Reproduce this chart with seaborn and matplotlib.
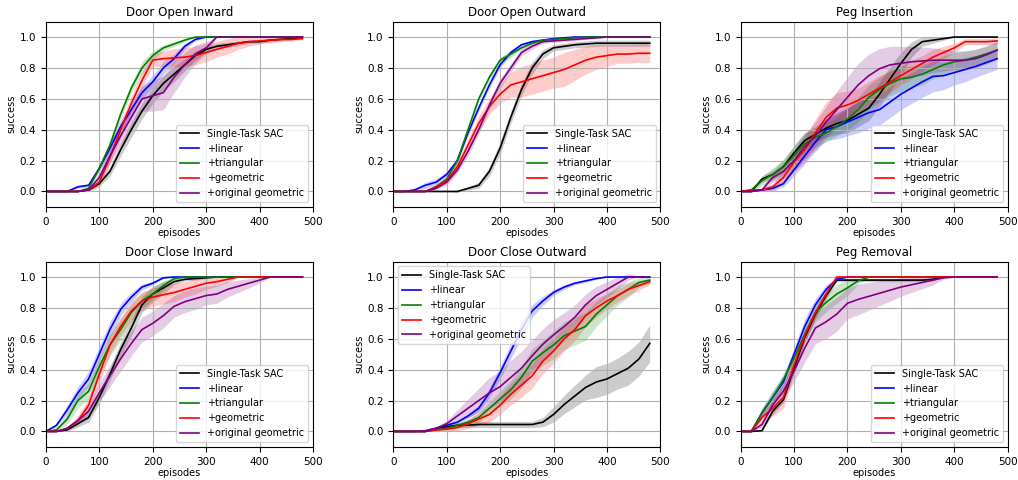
import numpy as np
import pandas as pd
import matplotlib
matplotlib.use('Agg')
import matplotlib.pyplot as plt
import seaborn as sns

episodes = [0, 20, 40, 60, 80, 100, 120, 140, 160, 180, 200, 220, 240,
            260, 280, 300, 320, 340, 360, 380, 400, 420, 440, 460, 480]

methods = ['Single-Task SAC', '+linear', '+triangular', '+geometric', '+original geometric']
colors = ['black', 'blue', 'green', 'red', 'purple']
titles = ['Door Open Inward', 'Door Open Outward', 'Peg Insertion',
          'Door Close Inward', 'Door Close Outward', 'Peg Removal']

# Door Open Inward
doi_sac = [0, 0, 0, 0, 0.01, 0.05, 0.13, 0.27, 0.40, 0.52, 0.62, 0.70, 0.76, 0.82, 0.88, 0.92, 0.94, 0.95, 0.96, 0.97, 0.97, 0.98, 0.985, 0.99, 0.995]
doi_lin = [0, 0, 0, 0.03, 0.04, 0.15, 0.28, 0.42, 0.53, 0.64, 0.71, 0.80, 0.86, 0.94, 0.985, 1, 1, 1, 1, 1, 1, 1, 1, 1, 1]
doi_tri = [0, 0, 0, 0, 0.02, 0.15, 0.30, 0.50, 0.67, 0.80, 0.88, 0.93, 0.955, 0.98, 1, 1, 1, 1, 1, 1, 1, 1, 1, 1, 1]
doi_geo = [0, 0, 0, 0, 0.01, 0.06, 0.22, 0.40, 0.57, 0.72, 0.85, 0.86, 0.865, 0.87, 0.88, 0.90, 0.92, 0.94, 0.96, 0.97, 0.975, 0.98, 0.985, 0.985, 0.99]
doi_org = [0, 0, 0, 0, 0.01, 0.09, 0.23, 0.36, 0.48, 0.60, 0.62, 0.64, 0.74, 0.82, 0.89, 0.93, 1, 1, 1, 1, 1, 1, 1, 1, 1]
doi_sac_err = [0, 0, 0, 0, 0.01, 0.02, 0.03, 0.04, 0.05, 0.05, 0.05, 0.05, 0.05, 0.04, 0.03, 0.02, 0.02, 0.015, 0.015, 0.01, 0.01, 0.01, 0.01, 0.01, 0.005]
doi_lin_err = [0, 0, 0, 0.01, 0.01, 0.02, 0.03, 0.04, 0.04, 0.04, 0.04, 0.04, 0.03, 0.02, 0.01, 0, 0, 0, 0, 0, 0, 0, 0, 0, 0]
doi_tri_err = [0, 0, 0, 0, 0.01, 0.02, 0.03, 0.03, 0.03, 0.04, 0.03, 0.02, 0.015, 0.01, 0, 0, 0, 0, 0, 0, 0, 0, 0, 0, 0]
doi_geo_err = [0, 0, 0, 0, 0.01, 0.02, 0.04, 0.05, 0.05, 0.05, 0.04, 0.05, 0.06, 0.06, 0.06, 0.06, 0.05, 0.05, 0.04, 0.03, 0.02, 0.02, 0.015, 0.01, 0.01]
doi_org_err = [0, 0, 0, 0, 0.01, 0.03, 0.05, 0.06, 0.07, 0.08, 0.10, 0.11, 0.10, 0.08, 0.06, 0.04, 0, 0, 0, 0, 0, 0, 0, 0, 0]

# Door Open Outward
doo_sac = [0, 0, 0, 0, 0, 0, 0, 0.02, 0.04, 0.13, 0.28, 0.48, 0.66, 0.80, 0.89, 0.93, 0.94, 0.95, 0.955, 0.96, 0.96, 0.96, 0.96, 0.96, 0.96]
doo_lin = [0, 0, 0.01, 0.04, 0.06, 0.11, 0.20, 0.38, 0.54, 0.69, 0.82, 0.90, 0.95, 0.97, 0.98, 0.99, 0.995, 1, 1, 1, 1, 1, 1, 1, 1]
doo_tri = [0, 0, 0, 0, 0.03, 0.08, 0.20, 0.40, 0.60, 0.74, 0.85, 0.89, 0.93, 0.96, 0.98, 0.985, 0.99, 0.995, 1, 1, 1, 1, 1, 1, 1]
doo_geo = [0, 0, 0, 0, 0.03, 0.07, 0.16, 0.30, 0.44, 0.55, 0.63, 0.69, 0.71, 0.73, 0.75, 0.77, 0.79, 0.82, 0.85, 0.87, 0.88, 0.89, 0.89, 0.895, 0.895]
doo_org = [0, 0, 0, 0, 0.02, 0.06, 0.14, 0.26, 0.40, 0.56, 0.70, 0.80, 0.90, 0.94, 0.97, 0.975, 0.98, 0.985, 0.99, 0.995, 1, 1, 1, 1, 1]
doo_sac_err = [0, 0, 0, 0, 0, 0, 0.005, 0.01, 0.02, 0.03, 0.04, 0.04, 0.04, 0.04, 0.03, 0.02, 0.02, 0.02, 0.02, 0.02, 0.02, 0.02, 0.02, 0.02, 0.02]
doo_lin_err = [0, 0, 0.01, 0.02, 0.02, 0.02, 0.02, 0.02, 0.02, 0.02, 0.02, 0.015, 0.01, 0.01, 0.01, 0.005, 0, 0, 0, 0, 0, 0, 0, 0, 0]
doo_tri_err = [0, 0, 0, 0, 0.01, 0.01, 0.02, 0.02, 0.02, 0.02, 0.02, 0.02, 0.01, 0.01, 0.005, 0, 0, 0, 0, 0, 0, 0, 0, 0, 0]
doo_geo_err = [0, 0, 0, 0, 0.01, 0.02, 0.03, 0.04, 0.05, 0.05, 0.06, 0.08, 0.10, 0.10, 0.10, 0.10, 0.11, 0.10, 0.09, 0.08, 0.07, 0.06, 0.06, 0.06, 0.06]
doo_org_err = [0, 0, 0, 0, 0.01, 0.02, 0.02, 0.03, 0.03, 0.03, 0.03, 0.03, 0.02, 0.02, 0.01, 0.01, 0.01, 0.01, 0.005, 0.005, 0, 0, 0, 0, 0]

# Peg Insertion
pi_sac = [0, 0, 0.08, 0.11, 0.16, 0.25, 0.33, 0.37, 0.41, 0.44, 0.46, 0.50, 0.54, 0.63, 0.73, 0.83, 0.92, 0.97, 0.98, 0.99, 1, 1, 1, 1, 1]
pi_lin = [0, 0, 0.01, 0.02, 0.05, 0.14, 0.23, 0.32, 0.40, 0.42, 0.45, 0.48, 0.51, 0.53, 0.58, 0.63, 0.67, 0.71, 0.745, 0.75, 0.77, 0.79, 0.81, 0.835, 0.86]
pi_tri = [0, 0.01, 0.07, 0.11, 0.16, 0.23, 0.31, 0.35, 0.38, 0.42, 0.47, 0.53, 0.61, 0.66, 0.70, 0.73, 0.74, 0.76, 0.79, 0.82, 0.84, 0.85, 0.87, 0.89, 0.915]
pi_geo = [0, 0.01, 0.01, 0.03, 0.09, 0.19, 0.27, 0.38, 0.48, 0.54, 0.56, 0.59, 0.63, 0.67, 0.71, 0.75, 0.79, 0.83, 0.87, 0.90, 0.93, 0.97, 0.97, 0.97, 0.975]
pi_org = [0, 0, 0.01, 0.09, 0.13, 0.20, 0.29, 0.36, 0.45, 0.53, 0.61, 0.69, 0.75, 0.795, 0.82, 0.83, 0.84, 0.845, 0.85, 0.85, 0.85, 0.85, 0.86, 0.885, 0.915]
pi_sac_err = [0, 0, 0.02, 0.03, 0.04, 0.05, 0.05, 0.05, 0.06, 0.07, 0.08, 0.08, 0.08, 0.08, 0.08, 0.07, 0.05, 0.03, 0.02, 0.01, 0, 0, 0, 0, 0]
pi_lin_err = [0, 0, 0.01, 0.02, 0.02, 0.04, 0.05, 0.06, 0.07, 0.08, 0.09, 0.10, 0.10, 0.10, 0.10, 0.10, 0.10, 0.10, 0.10, 0.09, 0.08, 0.08, 0.07, 0.07, 0.07]
pi_tri_err = [0, 0.01, 0.03, 0.04, 0.05, 0.06, 0.07, 0.06, 0.06, 0.06, 0.07, 0.08, 0.08, 0.08, 0.08, 0.08, 0.07, 0.07, 0.06, 0.06, 0.06, 0.06, 0.05, 0.05, 0.05]
pi_geo_err = [0, 0.01, 0.01, 0.02, 0.04, 0.06, 0.08, 0.09, 0.10, 0.10, 0.09, 0.08, 0.08, 0.08, 0.07, 0.06, 0.06, 0.05, 0.05, 0.04, 0.03, 0.02, 0.02, 0.02, 0.02]
pi_org_err = [0, 0, 0.01, 0.03, 0.05, 0.07, 0.08, 0.09, 0.10, 0.12, 0.13, 0.14, 0.14, 0.13, 0.12, 0.11, 0.10, 0.09, 0.08, 0.07, 0.06, 0.06, 0.06, 0.06, 0.06]

# Door Close Inward
dci_sac = [0, 0, 0.01, 0.05, 0.09, 0.22, 0.37, 0.53, 0.67, 0.82, 0.89, 0.93, 0.97, 0.985, 0.99, 0.995, 1, 1, 1, 1, 1, 1, 1, 1, 1]
dci_lin = [0, 0.04, 0.14, 0.25, 0.34, 0.50, 0.66, 0.79, 0.87, 0.935, 0.96, 0.995, 1, 1, 1, 1, 1, 1, 1, 1, 1, 1, 1, 1, 1]
dci_tri = [0, 0.01, 0.08, 0.20, 0.26, 0.42, 0.56, 0.66, 0.77, 0.845, 0.89, 0.945, 0.99, 1, 1, 1, 1, 1, 1, 1, 1, 1, 1, 1, 1]
dci_geo = [0, 0, 0.02, 0.07, 0.17, 0.37, 0.56, 0.68, 0.78, 0.845, 0.87, 0.885, 0.90, 0.92, 0.94, 0.96, 0.97, 0.985, 1, 1, 1, 1, 1, 1, 1]
dci_org = [0, 0, 0.02, 0.07, 0.13, 0.25, 0.36, 0.47, 0.57, 0.66, 0.70, 0.75, 0.81, 0.84, 0.86, 0.88, 0.89, 0.92, 0.94, 0.96, 0.98, 1, 1, 1, 1]
dci_sac_err = [0, 0, 0.01, 0.02, 0.03, 0.04, 0.04, 0.05, 0.05, 0.05, 0.05, 0.04, 0.02, 0.01, 0.01, 0.005, 0, 0, 0, 0, 0, 0, 0, 0, 0]
dci_lin_err = [0, 0.01, 0.03, 0.04, 0.05, 0.05, 0.05, 0.04, 0.03, 0.02, 0.01, 0.005, 0, 0, 0, 0, 0, 0, 0, 0, 0, 0, 0, 0, 0]
dci_tri_err = [0, 0.01, 0.03, 0.05, 0.05, 0.06, 0.07, 0.07, 0.06, 0.05, 0.04, 0.03, 0.01, 0, 0, 0, 0, 0, 0, 0, 0, 0, 0, 0, 0]
dci_geo_err = [0, 0, 0.01, 0.03, 0.05, 0.06, 0.06, 0.06, 0.06, 0.06, 0.06, 0.06, 0.06, 0.05, 0.05, 0.04, 0.03, 0.02, 0, 0, 0, 0, 0, 0, 0]
dci_org_err = [0, 0, 0.01, 0.02, 0.04, 0.06, 0.07, 0.08, 0.08, 0.08, 0.08, 0.08, 0.07, 0.07, 0.07, 0.06, 0.06, 0.05, 0.04, 0.03, 0.02, 0, 0, 0, 0]

# Door Close Outward
dco_sac = [0, 0, 0, 0, 0.02, 0.03, 0.04, 0.04, 0.045, 0.045, 0.045, 0.045, 0.045, 0.045, 0.06, 0.11, 0.175, 0.23, 0.285, 0.32, 0.34, 0.375, 0.41, 0.47, 0.57]
dco_lin = [0, 0, 0, 0.005, 0.02, 0.04, 0.06, 0.10, 0.15, 0.25, 0.38, 0.52, 0.66, 0.78, 0.845, 0.90, 0.935, 0.96, 0.975, 0.99, 1, 1, 1, 1, 1]
dco_tri = [0, 0, 0, 0, 0.01, 0.02, 0.04, 0.06, 0.09, 0.15, 0.21, 0.27, 0.35, 0.455, 0.51, 0.56, 0.62, 0.65, 0.68, 0.76, 0.82, 0.88, 0.92, 0.965, 0.98]
dco_geo = [0, 0, 0, 0, 0.01, 0.015, 0.025, 0.05, 0.08, 0.11, 0.17, 0.24, 0.30, 0.36, 0.455, 0.52, 0.60, 0.66, 0.75, 0.80, 0.845, 0.88, 0.92, 0.945, 0.97]
dco_org = [0, 0, 0, 0, 0.02, 0.05, 0.10, 0.15, 0.20, 0.25, 0.29, 0.35, 0.41, 0.49, 0.565, 0.625, 0.68, 0.74, 0.82, 0.88, 0.92, 0.96, 1, 1, 1]
dco_sac_err = [0, 0, 0, 0, 0.005, 0.01, 0.015, 0.015, 0.02, 0.02, 0.02, 0.02, 0.02, 0.02, 0.03, 0.05, 0.06, 0.07, 0.08, 0.10, 0.10, 0.10, 0.11, 0.11, 0.12]
dco_lin_err = [0, 0, 0, 0.005, 0.005, 0.01, 0.01, 0.015, 0.02, 0.03, 0.04, 0.05, 0.05, 0.04, 0.03, 0.02, 0.015, 0.01, 0.01, 0.005, 0, 0, 0, 0, 0]
dco_tri_err = [0, 0, 0, 0, 0.005, 0.01, 0.015, 0.02, 0.03, 0.04, 0.05, 0.06, 0.07, 0.08, 0.08, 0.09, 0.09, 0.09, 0.09, 0.08, 0.07, 0.06, 0.05, 0.03, 0.02]
dco_geo_err = [0, 0, 0, 0, 0.005, 0.01, 0.02, 0.03, 0.04, 0.05, 0.06, 0.07, 0.08, 0.08, 0.08, 0.08, 0.08, 0.07, 0.07, 0.06, 0.05, 0.04, 0.04, 0.03, 0.02]
dco_org_err = [0, 0, 0, 0, 0.01, 0.02, 0.04, 0.06, 0.08, 0.10, 0.10, 0.11, 0.11, 0.10, 0.10, 0.10, 0.09, 0.08, 0.07, 0.06, 0.05, 0.04, 0.02, 0, 0]

# Peg Removal
pr_sac = [0, 0, 0.005, 0.13, 0.205, 0.41, 0.61, 0.76, 0.88, 0.98, 0.98, 0.98, 0.98, 0.98, 0.98, 0.98, 0.98, 0.98, 0.985, 1, 1, 1, 1, 1, 1]
pr_lin = [0, 0, 0.12, 0.22, 0.32, 0.50, 0.68, 0.82, 0.92, 0.985, 1, 1, 1, 1, 1, 1, 1, 1, 1, 1, 1, 1, 1, 1, 1]
pr_tri = [0, 0, 0.12, 0.22, 0.335, 0.475, 0.63, 0.77, 0.835, 0.89, 0.93, 0.975, 1, 1, 1, 1, 1, 1, 1, 1, 1, 1, 1, 1, 1]
pr_geo = [0, 0, 0.09, 0.15, 0.22, 0.43, 0.62, 0.77, 0.89, 1, 1, 1, 1, 1, 1, 1, 1, 1, 1, 1, 1, 1, 1, 1, 1]
pr_org = [0, 0, 0.045, 0.17, 0.26, 0.39, 0.54, 0.67, 0.71, 0.76, 0.83, 0.855, 0.875, 0.895, 0.915, 0.935, 0.95, 0.965, 0.98, 0.995, 1, 1, 1, 1, 1]
pr_sac_err = [0, 0, 0.005, 0.02, 0.02, 0.03, 0.03, 0.03, 0.02, 0.01, 0.01, 0.01, 0.01, 0.01, 0.01, 0.01, 0.01, 0.01, 0.01, 0, 0, 0, 0, 0, 0]
pr_lin_err = [0, 0, 0.03, 0.04, 0.04, 0.04, 0.05, 0.04, 0.03, 0.01, 0, 0, 0, 0, 0, 0, 0, 0, 0, 0, 0, 0, 0, 0, 0]
pr_tri_err = [0, 0, 0.03, 0.04, 0.04, 0.04, 0.05, 0.06, 0.06, 0.06, 0.05, 0.02, 0, 0, 0, 0, 0, 0, 0, 0, 0, 0, 0, 0, 0]
pr_geo_err = [0, 0, 0.03, 0.05, 0.07, 0.06, 0.04, 0.03, 0.03, 0, 0, 0, 0, 0, 0, 0, 0, 0, 0, 0, 0, 0, 0, 0, 0]
pr_org_err = [0, 0, 0.02, 0.04, 0.05, 0.07, 0.09, 0.10, 0.11, 0.11, 0.10, 0.10, 0.09, 0.08, 0.07, 0.06, 0.05, 0.04, 0.03, 0.01, 0, 0, 0, 0, 0]

tasks = [
    ([doi_sac, doi_lin, doi_tri, doi_geo, doi_org],
     [doi_sac_err, doi_lin_err, doi_tri_err, doi_geo_err, doi_org_err], 'lower right'),
    ([doo_sac, doo_lin, doo_tri, doo_geo, doo_org],
     [doo_sac_err, doo_lin_err, doo_tri_err, doo_geo_err, doo_org_err], 'lower right'),
    ([pi_sac, pi_lin, pi_tri, pi_geo, pi_org],
     [pi_sac_err, pi_lin_err, pi_tri_err, pi_geo_err, pi_org_err], 'lower right'),
    ([dci_sac, dci_lin, dci_tri, dci_geo, dci_org],
     [dci_sac_err, dci_lin_err, dci_tri_err, dci_geo_err, dci_org_err], 'lower right'),
    ([dco_sac, dco_lin, dco_tri, dco_geo, dco_org],
     [dco_sac_err, dco_lin_err, dco_tri_err, dco_geo_err, dco_org_err], 'upper left'),
    ([pr_sac, pr_lin, pr_tri, pr_geo, pr_org],
     [pr_sac_err, pr_lin_err, pr_tri_err, pr_geo_err, pr_org_err], 'lower right'),
]

plt.rcParams['font.family'] = ['DejaVu Sans']

fig, axes = plt.subplots(2, 3, figsize=(10.18, 4.8), dpi=100)
fig.subplots_adjust(left=0.045, right=0.99, top=0.955, bottom=0.069,
                    wspace=0.30, hspace=0.295)

for ax, title, (means, errs, loc) in zip(axes.flat, titles, tasks):
    x = np.array(episodes)
    for name, c, m, e in zip(methods, colors, means, errs):
        m = np.array(m)
        e = np.array(e)
        ax.fill_between(x, m - e, m + e, color=c, alpha=0.2, linewidth=0)
        sns.lineplot(x=x, y=m, color=c, label=name, linewidth=1.2, ax=ax)
    ax.set_xlim(0, 500)
    ax.set_ylim(-0.1, 1.1)
    ax.set_xticks([0, 100, 200, 300, 400, 500])
    ax.set_yticks([0.0, 0.2, 0.4, 0.6, 0.8, 1.0])
    ax.grid(True)
    ax.tick_params(labelsize=7.5)
    ax.set_title(title, fontsize=8.5, pad=4)
    ax.set_xlabel('episodes', fontsize=7, labelpad=1)
    ax.set_ylabel('success', fontsize=7, labelpad=2)
    ax.legend(loc=loc, fontsize=7)

plt.savefig('out.png', dpi=100)
